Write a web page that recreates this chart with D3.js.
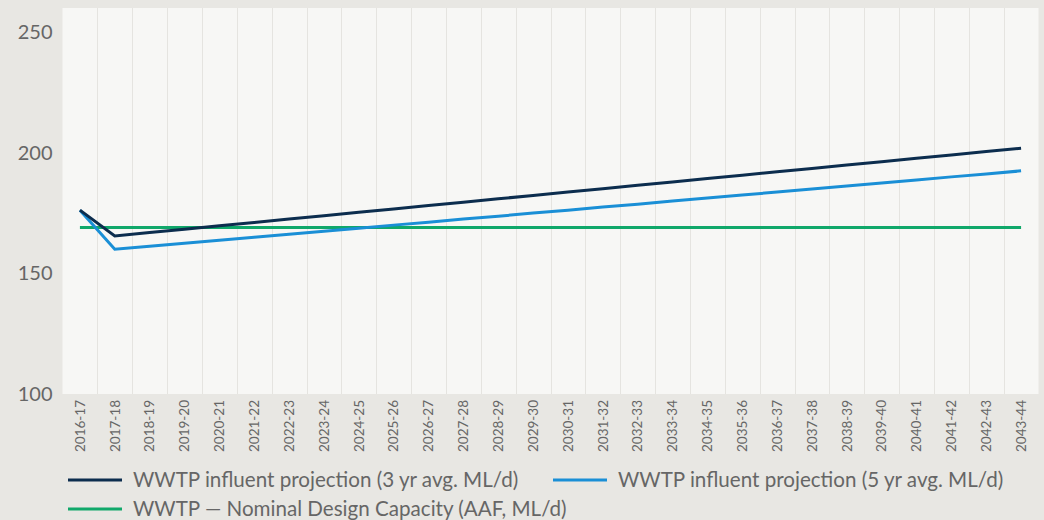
<!DOCTYPE html>
<html>
<head>
<meta charset="utf-8">
<script src="https://cdn.jsdelivr.net/npm/d3@7"></script>
<style>
  html, body { margin: 0; padding: 0; background: #e8e7e3; }
  svg { display: block; font-family: Lato, "Open Sans", sans-serif; }
</style>
</head>
<body>
<svg id="chart" width="1044" height="520"></svg>
<script>
// Financial years on the x axis
const years = [
  "2016-17", "2017-18", "2018-19", "2019-20", "2020-21", "2021-22", "2022-23",
  "2023-24", "2024-25", "2025-26", "2026-27", "2027-28", "2028-29", "2029-30",
  "2030-31", "2031-32", "2032-33", "2033-34", "2034-35", "2035-36", "2036-37",
  "2037-38", "2038-39", "2039-40", "2040-41", "2041-42", "2042-43", "2043-44"
];

// Influent projection based on a 3 year average (ML/d)
const influent3yr = [
  176.2, 165.5, 166.9, 168.3, 169.7, 171.1, 172.5, 173.9, 175.3, 176.7,
  178.1, 179.5, 180.9, 182.3, 183.7, 185.1, 186.5, 187.9, 189.3, 190.7,
  192.1, 193.5, 194.9, 196.3, 197.7, 199.1, 200.5, 201.9
];

// Influent projection based on a 5 year average (ML/d)
const influent5yr = [
  176.2, 160.0, 161.2, 162.5, 163.7, 165.0, 166.2, 167.5, 168.7, 170.0,
  171.2, 172.5, 173.7, 175.0, 176.2, 177.5, 178.7, 180.0, 181.2, 182.5,
  183.7, 185.0, 186.2, 187.5, 188.7, 190.0, 191.2, 192.5
];

// Nominal design capacity of the plant (AAF, ML/d)
const designCapacity = [
  169, 169, 169, 169, 169, 169, 169, 169, 169, 169,
  169, 169, 169, 169, 169, 169, 169, 169, 169, 169,
  169, 169, 169, 169, 169, 169, 169, 169
];

const yTicks = [100, 150, 200, 250];

const seriesNames = [
  "WWTP influent projection (3 yr avg. ML/d)",
  "WWTP influent projection (5 yr avg. ML/d)",
  "WWTP \u2014 Nominal Design Capacity (AAF, ML/d)"
];

const series = [
  { name: seriesNames[0], values: influent3yr, color: "#0c2d4e" },
  { name: seriesNames[1], values: influent5yr, color: "#1a8fd6" },
  { name: seriesNames[2], values: designCapacity, color: "#10a86a" }
];

const svg = d3.select("#chart");
const plot = { left: 62.5, right: 1038.5, top: 8, bottom: 394 };

const x = d3.scaleBand().domain(years).range([plot.left, plot.right]);
const y = d3.scaleLinear().domain([100, 260]).range([plot.bottom, plot.top]);

// Plot background
svg.append("rect")
  .attr("x", plot.left).attr("y", plot.top)
  .attr("width", plot.right - plot.left).attr("height", plot.bottom - plot.top)
  .attr("fill", "#f7f7f5");

// Vertical separators between years
svg.append("g")
  .selectAll("line")
  .data(years.slice(1))
  .join("line")
  .attr("x1", d => Math.round(x(d)) + 0.5)
  .attr("x2", d => Math.round(x(d)) + 0.5)
  .attr("y1", plot.top).attr("y2", plot.bottom)
  .attr("stroke", "#e5e4e0").attr("stroke-width", 1);

// Y axis labels
const yAxis = svg.append("g")
  .attr("transform", `translate(${plot.left - 10},0)`)
  .call(d3.axisLeft(y).tickValues(yTicks).tickSize(0).tickPadding(0));
yAxis.select(".domain").remove();
yAxis.selectAll("text")
  .attr("fill", "#666666")
  .attr("font-size", 20)
  .attr("font-family", "Lato, sans-serif");

// X axis labels, rotated
const xAxis = svg.append("g")
  .attr("transform", `translate(0,${plot.bottom})`)
  .call(d3.axisBottom(x).tickSize(0).tickPadding(0));
xAxis.select(".domain").remove();
xAxis.selectAll("text")
  .attr("fill", "#666666")
  .attr("font-size", 13.5)
  .attr("font-family", "Lato, sans-serif")
  .attr("text-anchor", "end")
  .attr("dy", "0.35em")
  .attr("transform", "translate(0,6) rotate(-90)")
  .attr("x", 0).attr("y", 0);

// Series lines
const line = d3.line()
  .x((d, i) => x(years[i]) + x.bandwidth() / 2)
  .y(d => y(d));

svg.append("g")
  .selectAll("path")
  .data([series[2], series[1], series[0]])
  .join("path")
  .attr("d", d => line(d.values))
  .attr("fill", "none")
  .attr("stroke", d => d.color)
  .attr("stroke-width", 3)
  .attr("stroke-linejoin", "miter");

// Legend
const legendItems = [
  { s: series[0], lx: 68, ty: 480 },
  { s: series[1], lx: 553, ty: 480 },
  { s: series[2], lx: 68, ty: 509 }
];
const legend = svg.append("g");
legendItems.forEach(item => {
  legend.append("line")
    .attr("x1", item.lx).attr("x2", item.lx + 54)
    .attr("y1", item.ty).attr("y2", item.ty)
    .attr("stroke", item.s.color).attr("stroke-width", 3);
  legend.append("text")
    .attr("x", item.lx + 65).attr("y", item.ty)
    .attr("dy", "0.35em")
    .attr("fill", "#666666")
    .attr("font-size", 20.6)
    .text(item.s.name);
});
</script>
</body>
</html>
